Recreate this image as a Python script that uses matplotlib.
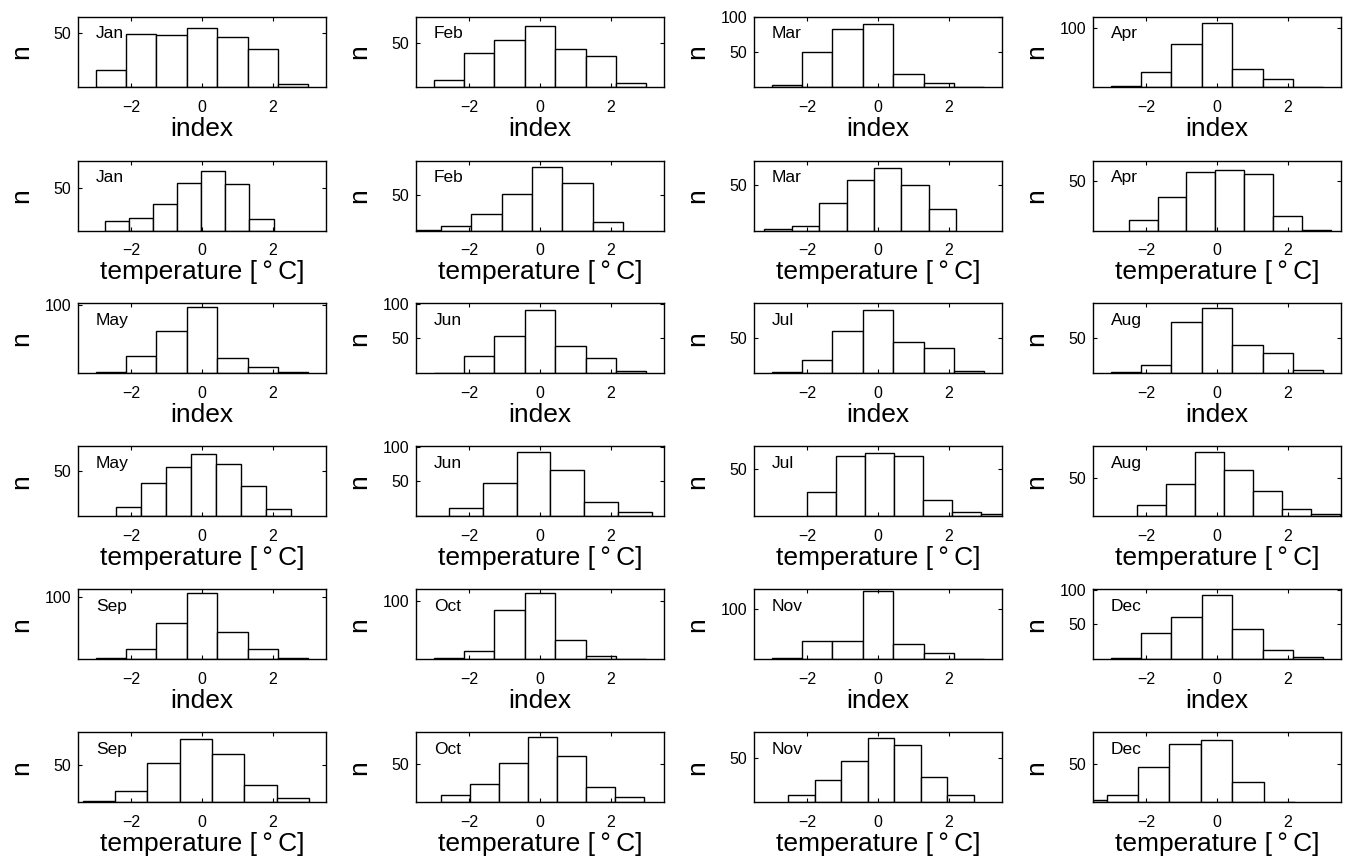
import numpy as np
import matplotlib.pyplot as plt
from matplotlib import transforms

plt.rcParams['font.family'] = ['Liberation Sans', 'DejaVu Sans']

months = ['Jan', 'Feb', 'Mar', 'Apr', 'May', 'Jun',
          'Jul', 'Aug', 'Sep', 'Oct', 'Nov', 'Dec']

# index histograms: 7 bins between -3 and 3
index_range = [-3.0, 3.0]
index_counts = [
    [16, 49, 48, 54, 46, 35, 3],     # Jan
    [8, 38, 53, 69, 43, 35, 4],      # Feb
    [3, 50, 83, 91, 19, 6, 0],       # Mar
    [2, 25, 72, 108, 30, 13, 0],     # Apr
    [2, 26, 62, 98, 22, 9, 2],       # May
    [1, 25, 54, 91, 39, 22, 4],      # Jun
    [2, 19, 59, 89, 44, 36, 3],      # Jul
    [2, 12, 72, 92, 40, 29, 5],      # Aug
    [2, 17, 59, 107, 44, 17, 2],     # Sep
    [2, 15, 84, 114, 33, 5, 0],      # Oct
    [2, 36, 36, 135, 30, 12, 0],     # Nov
    [2, 38, 61, 92, 43, 13, 3],      # Dec
]
index_ymax = [64.5, 78.7, 100.5, 117.7, 103, 100.5, 98, 98, 112.5, 120, 139, 100.5]

# temperature histograms: 7 bins between data min and max
temp_lo = [-2.75, -3.65, -3.21, -2.49, -2.43, -3.52, -2.00, -2.26, -3.37, -2.80, -2.53, -4.00]
temp_hi = [2.02, 2.34, 2.21, 3.21, 2.50, 3.15, 3.74, 3.47, 3.02, 2.94, 2.70, 2.20]
temp_counts = [
    [11, 15, 31, 55, 69, 54, 13],    # Jan
    [1, 7, 23, 51, 90, 67, 12],      # Feb
    [2, 5, 31, 56, 69, 50, 24],      # Mar
    [11, 34, 60, 62, 57, 15, 1],     # Apr
    [10, 37, 54, 68, 57, 33, 8],     # May
    [1, 12, 48, 93, 67, 20, 6],      # Jun
    [26, 63, 66, 63, 17, 5, 2],      # Jul
    [15, 42, 84, 61, 33, 9, 3],      # Aug
    [2, 15, 54, 86, 66, 23, 6],      # Sep
    [9, 24, 52, 86, 60, 20, 7],      # Oct
    [8, 25, 46, 72, 64, 28, 8],      # Nov
    [3, 9, 46, 76, 82, 26, 0],       # Dec
]
temp_ymax = [81.5, 99, 77.6, 71.2, 77, 100.5, 73.4, 91.6, 95, 91.6, 78.4, 91.6]

W, H = 1347, 857
col_left = [78, 416, 754, 1093]
row_top = [17, 160.5, 303.3, 446.3, 589.3, 732.3]
ax_w, ax_h = 248, 70

fig = plt.figure(figsize=(W / 100, H / 100), dpi=100)


def hist_panel(row, col, lo, hi, counts, ymax, month, xlabel):
    ax = fig.add_axes([col_left[col] / W, 1 - (row_top[row] + ax_h) / H,
                       ax_w / W, ax_h / H])
    edges = np.linspace(lo, hi, len(counts) + 1)
    ax.bar(edges[:-1], counts, width=np.diff(edges), align='edge',
           color='white', edgecolor='black', linewidth=1.0)
    ax.set_xlim(-3.5, 3.5)
    ax.set_ylim(0, ymax)
    ax.set_xticks([-2, 0, 2])
    step = 50 if ymax <= 101 else 100
    ax.set_yticks(np.arange(step, ymax + 0.01, step))
    ax.tick_params(direction='in', top=True, right=True, length=3,
                   width=0.8, labelsize=11.5, pad=9)
    ax.tick_params(axis='y', pad=5)
    for s in ax.spines.values():
        s.set_linewidth(1.0)
    ax.set_xlabel(xlabel, fontsize=19, labelpad=1.5)
    ax.set_ylabel('n', fontsize=19)
    ax.yaxis.set_label_coords(-0.18, 0.5)
    tr = transforms.blended_transform_factory(ax.transData, ax.transAxes)
    ax.text(-3, 0.76, month, transform=tr, fontsize=12.5,
            ha='left', va='center', zorder=5)
    return ax


for m, month in enumerate(months):
    block, col = divmod(m, 4)
    hist_panel(2 * block, col, index_range[0], index_range[1],
               index_counts[m], index_ymax[m], month, 'index')
    hist_panel(2 * block + 1, col, temp_lo[m], temp_hi[m],
               temp_counts[m], temp_ymax[m], month,
               'temperature [\u2009°\u2009C]')

fig.savefig('out.png', dpi=100)
